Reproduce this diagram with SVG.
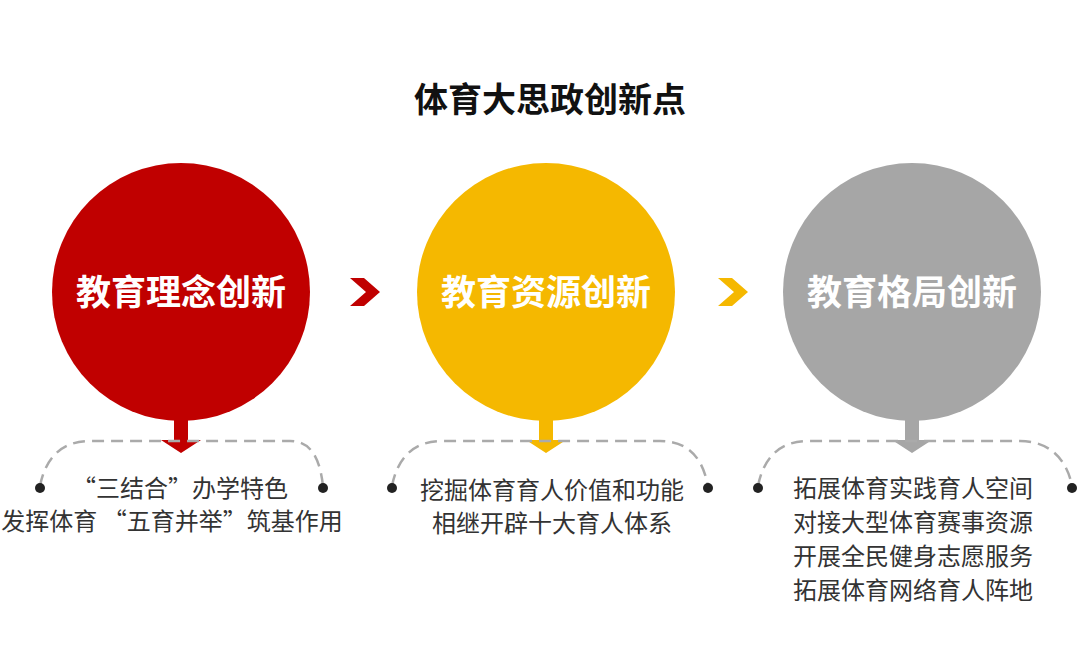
<svg xmlns="http://www.w3.org/2000/svg" width="1080" height="648" viewBox="0 0 1080 648">
<style>
text{font-family:"Noto Sans CJK SC","Liberation Sans",sans-serif}
.t{font-size:34px;font-weight:bold;fill:#111;text-anchor:middle}
.c{font-size:35px;font-weight:bold;fill:#fff;text-anchor:middle}
.b{font-size:24px;fill:#333}
.m{text-anchor:middle}
.d{fill:none;stroke:#aaa;stroke-width:2.5;stroke-dasharray:12 7}
.dot{fill:#222}
</style>
<rect width="1080" height="648" fill="#fff"/>
<text class="t" x="550" y="112">体育大思政创新点</text>
<g id="n1">
<circle cx="181" cy="292" r="129" fill="#c00000"/>
<text class="c" x="181" y="305">教育理念创新</text>
<path d="M174 412h14v28h13l-20 13l-20-13h13z" fill="#c00000"/>
<path class="d" d="M40 486C45 460 60 441 90 441H290C312 441 320 460 323 486"/>
<circle class="dot" cx="40" cy="488" r="5"/><circle class="dot" cx="323" cy="488" r="5"/>
<text class="b m" x="180" y="497">“三结合”办学特色</text>
<text class="b m" x="172" y="530">发挥体育 “五育并举”筑基作用</text>
</g>
<g id="n2">
<circle cx="546" cy="292" r="129" fill="#f5b800"/>
<text class="c" x="546" y="305">教育资源创新</text>
<path d="M539 412h14v28h13l-20 13l-20-13h13z" fill="#f5b800"/>
<path class="d" d="M392 486C397 460 412 441 442 441H660C690 441 703 460 708 486"/>
<circle class="dot" cx="392" cy="488" r="5"/><circle class="dot" cx="708" cy="488" r="5"/>
<text class="b m" x="552" y="499">挖掘体育育人价值和功能</text>
<text class="b m" x="552" y="532">相继开辟十大育人体系</text>
</g>
<g id="n3">
<circle cx="912" cy="292" r="129" fill="#a6a6a6"/>
<text class="c" x="912" y="305">教育格局创新</text>
<path d="M905 412h14v28h13l-20 13l-20-13h13z" fill="#a6a6a6"/>
<path class="d" d="M758 486C763 460 778 441 808 441H1020C1050 441 1067 460 1072 486"/>
<circle class="dot" cx="758" cy="488" r="5"/><circle class="dot" cx="1072" cy="488" r="5"/>
<text class="b" x="793" y="497">拓展体育实践育人空间</text>
<text class="b" x="793" y="531">对接大型体育赛事资源</text>
<text class="b" x="793" y="565">开展全民健身志愿服务</text>
<text class="b" x="793" y="599">拓展体育网络育人阵地</text>
</g>
<g id="connectors">
<path d="M350 278h14l16 14l-16 14h-14l16-14z" fill="#c00000"/>
<path d="M718 278h14l16 14l-16 14h-14l16-14z" fill="#f5b800"/>
</g>
</svg>
